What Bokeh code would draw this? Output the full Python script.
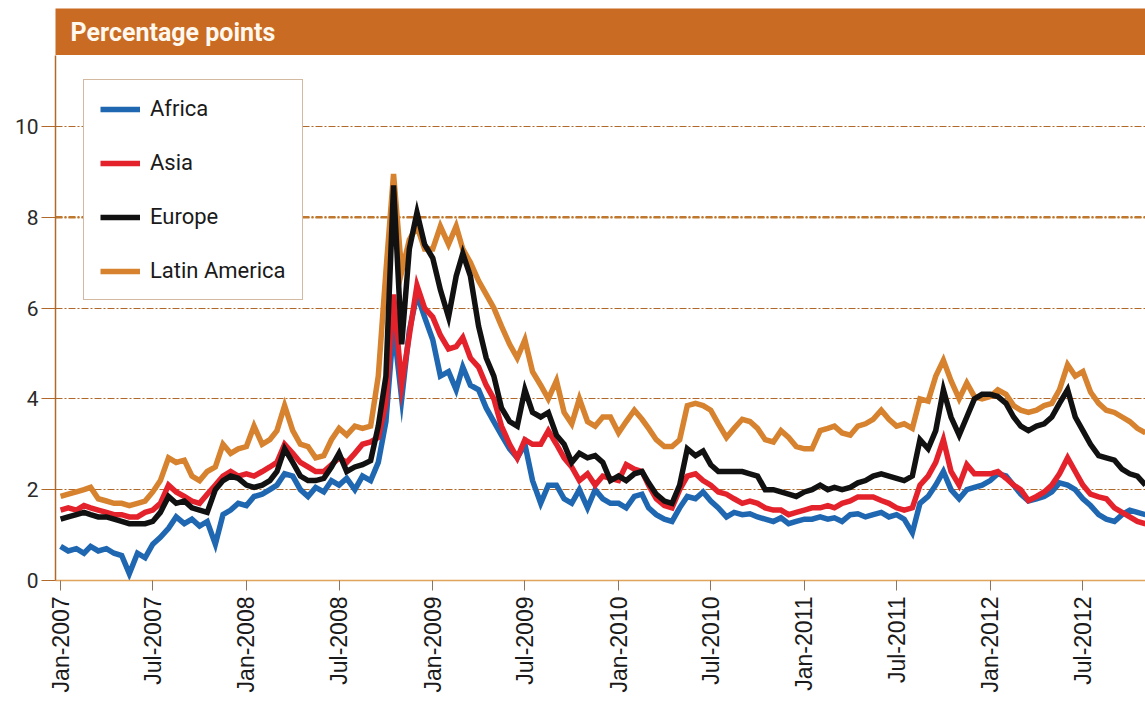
import pandas as pd
from datetime import datetime
from bokeh.plotting import figure
from bokeh.models import Range1d, FixedTicker, Legend, LegendItem, Span, Label, DatetimeTickFormatter
from bokeh.layouts import column
from bokeh.embed import file_html
from bokeh.resources import INLINE

# ---------------- data (semi-monthly readings, Jan 2007 - Nov 2012) ----------------
africa = [
    0.75, 0.65, 0.7, 0.6, 0.75, 0.65, 0.7, 0.6, 0.55, 0.15, 0.6, 0.5, 0.8, 0.95, 1.15, 1.4, 1.25, 1.35, 1.2, 1.3, 0.8, 1.45, 1.55, 1.7,
    1.65, 1.85, 1.9, 2.0, 2.1, 2.35, 2.3, 2.0, 1.85, 2.05, 1.95, 2.2, 2.1, 2.25, 2.0, 2.3, 2.2, 2.6, 3.5, 5.6, 4.0, 5.5, 6.3, 5.8,
    5.3, 4.5, 4.6, 4.2, 4.7, 4.3, 4.2, 3.8, 3.5, 3.2, 2.9, 2.7, 3.0, 2.2, 1.7, 2.1, 2.1, 1.8, 1.7, 2.0, 1.6, 2.0, 1.8, 1.7,
    1.7, 1.6, 1.85, 1.9, 1.6, 1.45, 1.35, 1.3, 1.6, 1.85, 1.8, 1.95, 1.75, 1.6, 1.4, 1.5, 1.45, 1.47, 1.4, 1.35, 1.3, 1.38, 1.25, 1.3,
    1.35, 1.35, 1.4, 1.35, 1.38, 1.3, 1.45, 1.47, 1.4, 1.45, 1.5, 1.4, 1.45, 1.35, 1.05, 1.7, 1.85, 2.1, 2.4, 2.0, 1.8, 2.0, 2.05, 2.1,
    2.2, 2.35, 2.3, 2.1, 1.9, 1.75, 1.8, 1.85, 1.95, 2.15, 2.1, 2.0, 1.8, 1.65, 1.45, 1.35, 1.3, 1.45, 1.55, 1.5, 1.45,
]
asia = [
    1.55, 1.6, 1.55, 1.65, 1.6, 1.55, 1.5, 1.45, 1.45, 1.4, 1.4, 1.5, 1.55, 1.7, 2.1, 1.95, 1.85, 1.75, 1.7, 1.9, 2.1, 2.3, 2.4, 2.3,
    2.35, 2.3, 2.4, 2.5, 2.6, 3.0, 2.8, 2.6, 2.5, 2.4, 2.4, 2.55, 2.7, 2.6, 2.8, 3.0, 3.05, 3.15, 3.9, 6.3, 4.3, 5.4, 6.5, 6.0,
    5.8, 5.4, 5.1, 5.15, 5.35, 4.9, 4.7, 4.3, 4.0, 3.4, 3.0, 2.7, 3.1, 3.0, 3.0, 3.3, 3.0, 2.7, 2.5, 2.2, 2.35, 2.1, 2.3, 2.25,
    2.2, 2.55, 2.45, 2.4, 2.1, 1.8, 1.65, 1.6, 2.0, 2.3, 2.35, 2.2, 2.1, 1.95, 1.9, 1.8, 1.7, 1.75, 1.7, 1.6, 1.55, 1.55, 1.45, 1.5,
    1.55, 1.6, 1.6, 1.65, 1.6, 1.7, 1.75, 1.84, 1.84, 1.84, 1.76, 1.7, 1.6, 1.55, 1.6, 2.1, 2.3, 2.6, 3.1, 2.4, 2.1, 2.55, 2.35, 2.35,
    2.35, 2.4, 2.25, 2.1, 2.0, 1.76, 1.85, 1.95, 2.1, 2.35, 2.7, 2.4, 2.1, 1.9, 1.84, 1.8, 1.6, 1.5, 1.4, 1.3, 1.25,
]
europe = [
    1.35, 1.4, 1.45, 1.5, 1.45, 1.4, 1.4, 1.35, 1.3, 1.25, 1.25, 1.25, 1.3, 1.5, 1.85, 1.7, 1.75, 1.6, 1.55, 1.5, 2.0, 2.2, 2.3, 2.25,
    2.1, 2.05, 2.1, 2.2, 2.4, 2.9, 2.6, 2.3, 2.2, 2.2, 2.25, 2.5, 2.8, 2.4, 2.5, 2.55, 2.64, 3.4, 4.5, 8.7, 5.2, 7.3, 8.1, 7.4,
    7.1, 6.4, 5.8, 6.7, 7.2, 6.7, 5.6, 4.9, 4.5, 3.8, 3.5, 3.4, 4.2, 3.7, 3.6, 3.7, 3.2, 3.0, 2.6, 2.8, 2.7, 2.75, 2.6, 2.2,
    2.3, 2.2, 2.35, 2.4, 2.15, 1.9, 1.75, 1.7, 2.1, 2.9, 2.75, 2.85, 2.55, 2.4, 2.4, 2.4, 2.4, 2.35, 2.3, 2.0, 2.0, 1.95, 1.9, 1.85,
    1.95, 2.0, 2.1, 2.0, 2.05, 2.0, 2.05, 2.15, 2.2, 2.3, 2.35, 2.3, 2.25, 2.2, 2.3, 3.1, 2.9, 3.3, 4.2, 3.6, 3.2, 3.6, 4.0, 4.1,
    4.1, 4.05, 3.9, 3.6, 3.4, 3.3, 3.4, 3.45, 3.6, 3.9, 4.2, 3.6, 3.3, 3.0, 2.75, 2.7, 2.65, 2.45, 2.35, 2.3, 2.1,
]
latin_america = [
    1.85, 1.9, 1.95, 2.0, 2.05, 1.8, 1.75, 1.7, 1.7, 1.65, 1.7, 1.75, 1.95, 2.2, 2.7, 2.6, 2.65, 2.3, 2.2, 2.4, 2.5, 3.0, 2.8, 2.9,
    2.95, 3.4, 3.0, 3.1, 3.3, 3.85, 3.3, 3.0, 2.95, 2.7, 2.75, 3.1, 3.35, 3.2, 3.4, 3.35, 3.4, 4.5, 6.8, 8.95, 6.8, 7.5, 7.8, 7.3,
    7.3, 7.8, 7.4, 7.8, 7.3, 7.0, 6.6, 6.3, 6.0, 5.6, 5.2, 4.9, 5.3, 4.6, 4.3, 4.0, 4.4, 3.7, 3.45, 4.0, 3.5, 3.4, 3.6, 3.6,
    3.25, 3.5, 3.75, 3.55, 3.35, 3.1, 2.95, 2.95, 3.1, 3.85, 3.9, 3.85, 3.75, 3.45, 3.15, 3.35, 3.55, 3.5, 3.35, 3.1, 3.05, 3.3, 3.15, 2.95,
    2.9, 2.9, 3.3, 3.35, 3.4, 3.25, 3.2, 3.4, 3.45, 3.55, 3.75, 3.55, 3.4, 3.45, 3.35, 4.0, 3.95, 4.5, 4.85, 4.4, 4.0, 4.35, 4.05, 4.0,
    4.05, 4.2, 4.1, 3.85, 3.75, 3.7, 3.75, 3.85, 3.9, 4.2, 4.75, 4.5, 4.6, 4.15, 3.9, 3.75, 3.7, 3.6, 3.5, 3.35, 3.25,
]
series_names = ["Africa", "Asia", "Europe", "Latin America"]
x_tick_labels = ["Jan-2007", "Jul-2007", "Jan-2008", "Jul-2008", "Jan-2009", "Jul-2009",
                 "Jan-2010", "Jul-2010", "Jan-2011", "Jul-2011", "Jan-2012", "Jul-2012"]
y_ticks = [0, 2, 4, 6, 8, 10]
header_text = "Percentage points"

# sampling dates: 1st and 16th of each month
n = len(africa)
dates = [datetime(2007 + (i // 2) // 12, (i // 2) % 12 + 1, 1 if i % 2 == 0 else 16) for i in range(n)]

colors = {"Africa": "#1F67B1", "Asia": "#E4222B", "Europe": "#111111", "Latin America": "#D6822E"}
vals = {"Africa": africa, "Asia": asia, "Europe": europe, "Latin America": latin_america}

W = 1145
FONT = "Roboto"
BROWN = "#B0692A"

# ---------------- header bar ----------------
hdr = figure(width=W, height=55, x_range=Range1d(0, 1), y_range=Range1d(0, 1),
             toolbar_location=None, output_backend="svg", x_axis_type=None, y_axis_type=None,
             min_border_left=55, min_border_right=0, min_border_top=8, min_border_bottom=0)
hdr.background_fill_color = "#C96B22"
hdr.outline_line_color = None
hdr.border_fill_color = "white"
hdr.add_layout(Label(x=15, y=23, x_units="screen", y_units="screen", text=header_text,
                     text_color="#FFF8EE", text_font=FONT, text_font_size="25px",
                     text_font_style="bold", text_baseline="middle"))

# ---------------- main plot ----------------
p = figure(width=W, height=660, x_axis_type="datetime",
           x_range=Range1d(datetime(2006, 12, 22), datetime(2012, 11, 1)),
           y_range=Range1d(0, 11.56),
           toolbar_location=None, output_backend="svg",
           min_border_left=55, min_border_right=0, min_border_top=0, min_border_bottom=135)
p.outline_line_color = None
p.background_fill_color = "white"
p.border_fill_color = "white"

renderers = {}
for name in ["Latin America", "Africa", "Asia", "Europe"]:
    renderers[name] = p.line(dates, vals[name], line_color=colors[name], line_width=5.5, line_join="miter")

# x axis
tick_ts = [pd.Timestamp(datetime.strptime(lbl, "%b-%Y")).value // 10**6 for lbl in x_tick_labels]
xa = p.xaxis[0]
xa.ticker = FixedTicker(ticks=tick_ts)
xa.formatter = DatetimeTickFormatter(days="%b-%Y", months="%b-%Y", years="%b-%Y")
xa.major_label_overrides = {t: l for t, l in zip(tick_ts, x_tick_labels)}
xa.major_label_orientation = 1.5708
xa.major_label_text_font = "Liberation Sans"
xa.major_label_text_font_size = "23px"
xa.major_label_text_color = "#1a1a1a"
xa.major_label_standoff = 6
xa.axis_line_color = "#E0A45C"
xa.axis_line_width = 1.5
xa.major_tick_line_color = "#8C7560"
xa.major_tick_out = 10
xa.major_tick_in = 0
xa.minor_tick_line_color = None

# y axis
ya = p.yaxis[0]
ya.ticker = FixedTicker(ticks=y_ticks)
ya.major_label_text_font = FONT
ya.major_label_text_font_size = "21px"
ya.major_label_text_color = "#2a2a2a"
ya.major_label_standoff = 3
ya.axis_line_color = BROWN
ya.axis_line_width = 1.5
ya.major_tick_line_color = BROWN
ya.major_tick_out = 14
ya.major_tick_in = 0
ya.minor_tick_line_color = None

p.xgrid.grid_line_color = None
p.ygrid.ticker = FixedTicker(ticks=y_ticks[1:])
p.ygrid.grid_line_color = BROWN
p.ygrid.grid_line_dash = "7 2 2 2"
p.ygrid.grid_line_width = 1.1
p.add_layout(Span(location=y_ticks[4], dimension="width", line_color="#C0782E",
                  line_width=2.5, line_dash="7 2 2 2", level="underlay"))

legend = Legend(items=[LegendItem(label=nm, renderers=[renderers[nm]]) for nm in series_names],
                location=(28, 280))
legend.border_line_color = "#A87442"
legend.border_line_width = 1.5
legend.background_fill_color = "white"
legend.background_fill_alpha = 1
legend.label_text_font = FONT
legend.label_text_font_size = "22px"
legend.label_text_color = "#1a1a1a"
legend.glyph_width = 40
legend.glyph_height = 22
legend.label_height = 22
legend.label_standoff = 10
legend.spacing = 29
legend.padding = 16
legend.margin = 0
p.add_layout(legend)

layout = column(hdr, p, spacing=0)
open("out.html", "w").write(file_html(layout, INLINE))
